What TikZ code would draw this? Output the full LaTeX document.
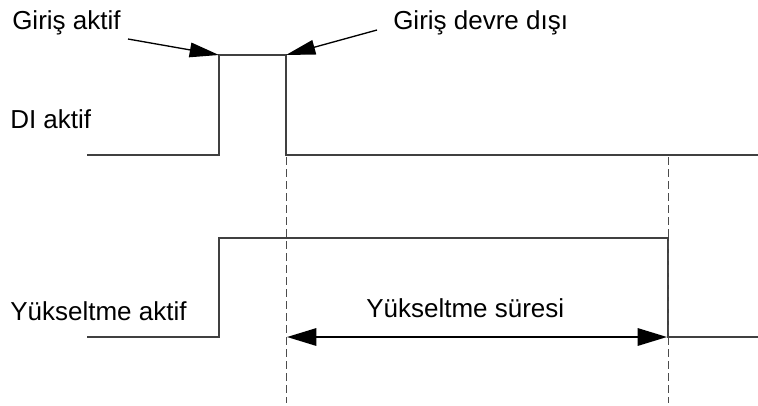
\documentclass[tikz,border=0pt]{standalone}
\usepackage{fontspec}
\setmainfont{Liberation Sans}
\usetikzlibrary{arrows.meta}
\begin{document}
\begin{tikzpicture}[x=0.75pt,y=-0.75pt,
  lbl/.style={anchor=base west,inner sep=0pt,font=\fontsize{19.5}{23}\selectfont},
  signal/.style={draw=black!75,line width=0.9pt},
  guide/.style={draw=black!70,line width=0.6pt,dash pattern=on 6pt off 3pt},
  pointer/.style={draw=black,line width=1pt,-{Triangle[length=22pt,width=11pt]}},
  dim/.style={draw=black,line width=1.6pt,{Triangle[length=22pt,width=13pt]}-{Triangle[length=22pt,width=13pt]}}]
\useasboundingbox (0,0) rectangle (758,405);
% text labels
\node[lbl] (ga) at (12,29) {Giriş aktif};
\node[lbl] (gd) at (393,29) {Giriş devre dışı};
\node[lbl] (di) at (10,128) {DI aktif};
\node[lbl] (ya) at (10,320) {Yükseltme aktif};
\node[lbl] (ys) at (366,317) {Yükseltme süresi};
% coordinates
\coordinate (d0) at (87,155);
\coordinate (d1) at (219,155);
\coordinate (d2) at (219,55);
\coordinate (d3) at (286,55);
\coordinate (d4) at (286,155);
\coordinate (d5) at (758,155);
\coordinate (y0) at (87,337);
\coordinate (y1) at (219,337);
\coordinate (y2) at (219,238);
\coordinate (y3) at (668,238);
\coordinate (y4) at (668,337);
\coordinate (y5) at (758,337);
\coordinate (g1) at (286,157);
\coordinate (g1b) at (286,403);
\coordinate (g2) at (668,157);
\coordinate (g2b) at (668,403);
\coordinate (p1) at (128,39);
\coordinate (p2) at (377,30);
\coordinate (a1) at (287,337);
\coordinate (a2) at (667,337);
% signals
\draw[signal] (d0) -- (d1) -- (d2) -- (d3) -- (d4) -- (d5);
\draw[signal] (y0) -- (y1) -- (y2) -- (y3) -- (y4) -- (y5);
% guides
\draw[guide] (g1) -- (g1b);
\draw[guide] (g2) -- (g2b);
% pointers
\draw[pointer] (p1) -- (d2);
\draw[pointer] (p2) -- (d3);
% dimension
\draw[dim] (a1) -- (a2);
\end{tikzpicture}
\end{document}
